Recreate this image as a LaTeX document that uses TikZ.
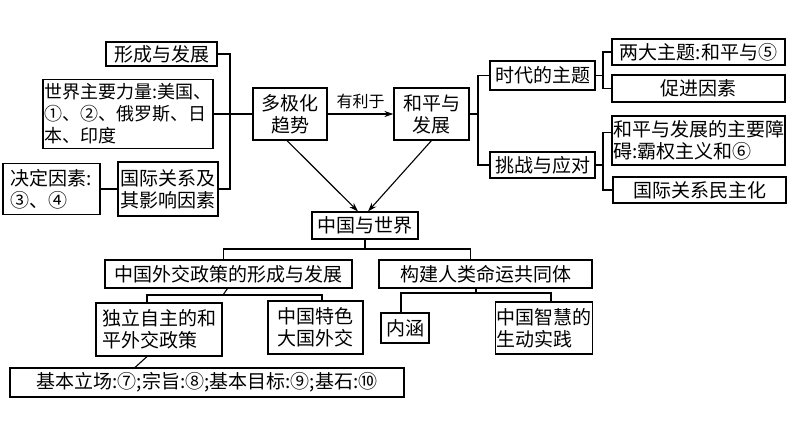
\documentclass[tikz,border=0pt]{standalone}
\usepackage{fontspec}
\newfontfamily\cjk{Noto Sans CJK SC}
\usetikzlibrary{arrows.meta}
\tikzset{
  box/.style={draw, line width=1.1pt, inner xsep=1pt, inner ysep=0pt, align=left,
    font=\cjk\fontsize{19}{22}\selectfont},
  link/.style={line width=1.1pt},
  arr/.style={line width=1.1pt, -{Stealth[length=9pt,width=6pt]}}
}
\begin{document}
\begin{tikzpicture}[x=1pt,y=-1pt]
  \useasboundingbox (0,0) rectangle (794,447);
  % left cluster
  \node[box, minimum width=111, minimum height=24] (xing) at (161.5,54) {形成与发展};
  \node[box, minimum width=170, minimum height=69, font=\cjk\fontsize{18}{22}\selectfont] (shijie) at (128,114) {世界主要力量:美国、\\①、②、俄罗斯、日\\本、印度};
  \node[box, minimum width=97, minimum height=51] (jueding) at (51.5,189) {决定因素:\\③、④\hspace{1.6em}};
  \node[box, minimum width=100, minimum height=54] (guoji) at (168,189) {国际关系及\\其影响因素};
  \node[box, minimum width=74, minimum height=52] (duoji) at (290,114) {多极化\\\hspace{0.5em}趋势};
  \node[box, minimum width=75, minimum height=52] (heping) at (431.5,114) {和平与\\\hspace{0.5em}发展};
  \node[box, minimum width=106, minimum height=27] (zgsj) at (365,225.5) {中国与世界};
  % right cluster
  \node[box, minimum width=105, minimum height=29] (shidai) at (542.5,75.5) {时代的主题};
  \node[box, minimum width=105, minimum height=26] (tiaozhan) at (542.5,165) {挑战与应对};
  \node[box, minimum width=173, minimum height=26] (liangda) at (698.5,52) {两大主题:和平与⑤};
  \node[box, minimum width=173, minimum height=27] (cujin) at (698.5,88.5) {促进因素};
  \node[box, minimum width=173, minimum height=49] (zhangai) at (698.5,140.5) {和平与发展的主要障\\碍:霸权主义和⑥};
  \node[box, minimum width=173, minimum height=26] (minzhu) at (699.5,190) {国际关系民主化};
  % bottom cluster
  \node[box, minimum width=247, minimum height=28] (waijiao) at (228.5,274) {中国外交政策的形成与发展};
  \node[box, minimum width=213, minimum height=28] (goujian) at (485.5,274) {构建人类命运共同体};
  \node[box, minimum width=126, minimum height=53] (duli) at (159,329.5) {独立自主的和\\平外交政策};
  \node[box, minimum width=95, minimum height=53] (tese) at (315.5,327.5) {中国特色\\大国外交};
  \node[box, minimum width=394, minimum height=29] (jiben) at (207,382.5) {基本立场:⑦;宗旨:⑧;基本目标:⑨;基石:⑩};
  \node[box, minimum width=48, minimum height=30] (neihan) at (405,328) {内涵};
  \node[box, minimum width=96, minimum height=52] (zhihui) at (544,328) {中国智慧的\\生动实践};
  % junctions
  \coordinate (jl) at (230,114);
  \coordinate (jr) at (478,114);
  \coordinate (js) at (603,75.5);
  \coordinate (jt) at (603,165);
  \coordinate (jb) at (365,249);
  \coordinate (jw) at (223,295);
  \coordinate (jg) at (476,293);
  \begin{scope}[link]
    \draw (xing.east) -| (jl) |- (guoji.east);
    \draw (shijie.east) -- (duoji.west);
    \draw (jueding.east) -- (guoji.west);
    \draw (heping.east) -- (jr);
    \draw (shidai.west) -| (jr) |- (tiaozhan.west);
    \draw (shidai.east) -- (js);
    \draw (liangda.west) -| (js) |- (cujin.west);
    \draw (tiaozhan.east) -- (jt);
    \draw ([yshift=8pt]zhangai.west) -| (jt) |- (minzhu.west);
    \draw (zgsj.south) -- (jb);
    \draw ([xshift=-5pt]waijiao.north) |- (jb) -| ([xshift=-15pt]goujian.north);
    \draw ([xshift=-1pt]waijiao.south) -- (jw);
    \draw ([xshift=-12pt]duli.north) |- (jw) -| ([xshift=6.5pt]tese.north);
    \draw ([xshift=-12pt]duli.south) -- ([xshift=-72pt]jiben.north);
    \draw ([xshift=-9.5pt]goujian.south) -- (jg);
    \draw ([xshift=-4pt]neihan.north) |- (jg) -| ([xshift=7pt]zhihui.north);
  \end{scope}
  \draw[arr] (duoji.east) -- node[above=1pt, font=\cjk\fontsize{16}{18}\selectfont] (youli) {有利于} (heping.west);
  \draw[arr] ([xshift=-3pt]duoji.south) -- ([xshift=-7pt]zgsj.north);
  \draw[arr] (heping.south) -- ([xshift=3pt]zgsj.north);
\end{tikzpicture}
\end{document}
